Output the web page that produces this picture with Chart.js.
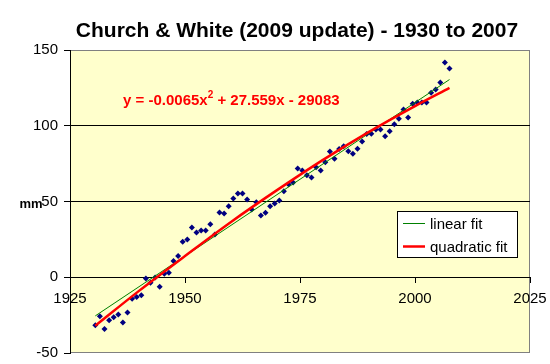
<!DOCTYPE html>
<html>
<head>
<meta charset="utf-8">
<title>Church &amp; White (2009 update)</title>
<script src="https://cdn.jsdelivr.net/npm/chart.js@4.4.1/dist/chart.umd.min.js"></script>
<style>
  html, body { margin: 0; padding: 0; background: #fff; }
  canvas { display: block; }
</style>
</head>
<body>
<canvas id="chart" width="550" height="364"></canvas>
<script>
// annual mean sea level, mid-year points (mm)
const years = [
  1930.5, 1931.5, 1932.5, 1933.5, 1934.5, 1935.5, 1936.5, 1937.5, 1938.5, 1939.5,
  1940.5, 1941.5, 1942.5, 1943.5, 1944.5, 1945.5, 1946.5, 1947.5, 1948.5, 1949.5,
  1950.5, 1951.5, 1952.5, 1953.5, 1954.5, 1955.5, 1956.5, 1957.5, 1958.5, 1959.5,
  1960.5, 1961.5, 1962.5, 1963.5, 1964.5, 1965.5, 1966.5, 1967.5, 1968.5, 1969.5,
  1970.5, 1971.5, 1972.5, 1973.5, 1974.5, 1975.5, 1976.5, 1977.5, 1978.5, 1979.5,
  1980.5, 1981.5, 1982.5, 1983.5, 1984.5, 1985.5, 1986.5, 1987.5, 1988.5, 1989.5,
  1990.5, 1991.5, 1992.5, 1993.5, 1994.5, 1995.5, 1996.5, 1997.5, 1998.5, 1999.5,
  2000.5, 2001.5, 2002.5, 2003.5, 2004.5, 2005.5, 2006.5, 2007.5
];
const seaLevel = [
  -31.7, -25.7, -34.1, -28.4, -26.4, -24.6, -29.9, -23.3, -14.2, -13.0,
  -11.8, -0.9, -3.6, -0.2, -6.3, 2.3, 3.0, 10.7, 14.0, 23.4,
  24.9, 32.8, 29.6, 30.8, 30.8, 35.0, 28.2, 42.7, 42.1, 46.9,
  51.9, 55.2, 55.2, 51.3, 44.7, 49.5, 40.7, 42.6, 46.9, 48.6,
  50.6, 56.8, 61.4, 62.5, 71.7, 70.4, 67.3, 65.8, 72.6, 70.4,
  75.9, 83.0, 78.3, 84.7, 86.5, 83.2, 81.6, 84.9, 89.6, 94.6,
  94.8, 97.5, 97.5, 93.0, 96.4, 101.0, 104.7, 110.7, 105.4, 114.6,
  115.3, 115.3, 115.3, 121.7, 123.9, 128.5, 141.7, 137.8
];

// trend lines as drawn in the picture
const linYears = [1930.5, 2007.5];
const linVals = [-25.5, 130.5];
const quadYears = [1930.5, 1940, 1950, 1960, 1970, 1980, 1990, 2000, 2007.5];
const quadVals = [-32, -9, 14, 36.5, 57.5, 77.5, 96, 113, 125];

const xTicks = [1925, 1950, 1975, 2000, 2025];
const yTicks = [-50, 0, 50, 100, 150];

const titleText = "Church & White (2009 update) - 1930 to 2007";
const eqLeft = "y = -0.0065x";
const eqSup = "2";
const eqRight = " + 27.559x - 29083";

const pts = (xs, ys) => xs.map((x, i) => ({ x: x, y: ys[i] }));
const FONT = '"Liberation Sans", Arial, sans-serif';
Chart.defaults.font.family = FONT;

const decor = {
  id: "decor",
  beforeDraw(chart) {
    const { ctx, chartArea: a } = chart;
    ctx.save();
    ctx.fillStyle = "#fff";
    ctx.fillRect(0, 0, chart.width, chart.height);
    ctx.fillStyle = "#ffffcc";
    ctx.fillRect(a.left, a.top, a.right - a.left, a.bottom - a.top);
    ctx.strokeStyle = "#808080";
    ctx.lineWidth = 1;
    ctx.strokeRect(a.left + 0.5, a.top + 0.5, a.right - a.left - 1, a.bottom - a.top - 1);
    ctx.restore();
  },
  afterDraw(chart) {
    const ctx = chart.ctx;
    ctx.save();
    ctx.fillStyle = "#000";
    ctx.textBaseline = "alphabetic";

    ctx.font = "bold 21px " + FONT;
    ctx.textAlign = "center";
    ctx.fillText(titleText, 297, 37);

    ctx.font = "bold 13px " + FONT;
    ctx.fillText("mm", 31, 208);

    // equation
    ctx.textAlign = "left";
    ctx.fillStyle = "#ff0000";
    let x = 123;
    ctx.font = "bold 15px " + FONT;
    ctx.fillText(eqLeft, x, 105);
    x += ctx.measureText(eqLeft).width;
    ctx.font = "bold 10px " + FONT;
    ctx.fillText(eqSup, x, 98);
    x += ctx.measureText(eqSup).width;
    ctx.font = "bold 15px " + FONT;
    ctx.fillText(eqRight, x, 105);

    // legend
    const lx = 397, ly = 211, lw = 120, lh = 46;
    ctx.fillStyle = "#fff";
    ctx.fillRect(lx, ly, lw, lh);
    ctx.strokeStyle = "#000";
    ctx.lineWidth = 1;
    ctx.strokeRect(lx + 0.5, ly + 0.5, lw, lh);
    ctx.font = "15px " + FONT;
    ctx.textBaseline = "middle";
    [1, 2].forEach((di, k) => {
      const ds = chart.data.datasets[di];
      const yy = ly + 12.5 + k * 23;
      ctx.strokeStyle = ds.borderColor;
      ctx.lineWidth = ds.borderWidth;
      ctx.beginPath();
      ctx.moveTo(lx + 6, yy);
      ctx.lineTo(lx + 28, yy);
      ctx.stroke();
      ctx.fillStyle = "#000";
      ctx.fillText(ds.label, lx + 33, yy + 1);
    });
    ctx.restore();
  }
};

new Chart(document.getElementById("chart"), {
  type: "scatter",
  data: {
    datasets: [
      {
        label: "sea level",
        data: pts(years, seaLevel),
        pointStyle: "rectRot",
        pointRadius: 3,
        backgroundColor: "#000080",
        borderWidth: 0,
        order: 3
      },
      {
        label: "linear fit",
        data: pts(linYears, linVals),
        showLine: true,
        borderColor: "#008000",
        borderWidth: 1,
        pointRadius: 0,
        order: 2
      },
      {
        label: "quadratic fit",
        data: pts(quadYears, quadVals),
        showLine: true,
        borderColor: "#ff0000",
        borderWidth: 2.5,
        pointRadius: 0,
        cubicInterpolationMode: "monotone",
        order: 1
      }
    ]
  },
  options: {
    responsive: false,
    animation: false,
    events: [],
    layout: { padding: { left: 0, right: 20, top: 50, bottom: 11 } },
    plugins: { legend: { display: false }, tooltip: { enabled: false } },
    scales: {
      x: {
        type: "linear",
        min: xTicks[0],
        max: xTicks[xTicks.length - 1],
        position: { y: 0 },
        afterBuildTicks: s => { s.ticks = xTicks.map(v => ({ value: v })); },
        afterFit: s => { s.paddingLeft = 0; s.paddingRight = 0; },
        ticks: { color: "#000", font: { size: 15 }, padding: 8, maxRotation: 0, autoSkip: false, callback: v => String(v) },
        grid: { drawOnChartArea: false, tickLength: 5, color: "#000" },
        border: { color: "#000" }
      },
      y: {
        min: yTicks[0],
        max: yTicks[yTicks.length - 1],
        afterBuildTicks: s => { s.ticks = yTicks.map(v => ({ value: v })); },
        afterFit: s => { s.width = 70; s.paddingTop = 0; s.paddingBottom = 0; },
        ticks: { color: "#000", font: { size: 15 }, padding: 6, callback: v => String(v) },
        grid: {
          color: c => (c.tick && (c.tick.value === 50 || c.tick.value === 100)) ? "#000" : "rgba(0,0,0,0)",
          tickColor: "#000",
          tickLength: 6
        },
        border: { color: "#000" }
      }
    }
  },
  plugins: [decor]
});
</script>
</body>
</html>
